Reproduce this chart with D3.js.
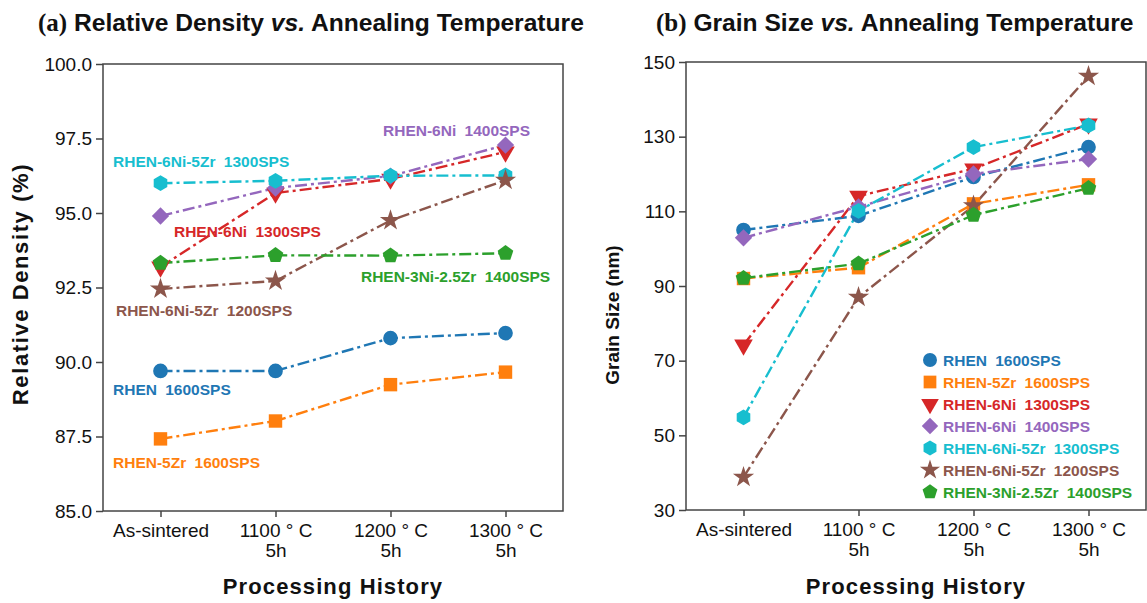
<!DOCTYPE html>
<html><head><meta charset="utf-8">
<script src="https://cdn.jsdelivr.net/npm/d3@7"></script>
<style>
html,body{margin:0;padding:0;background:#fff;}
svg{display:block;}
text{font-family:"Liberation Sans",Arial,sans-serif;}
</style></head>
<body>
<svg id="chart" width="1147" height="603"></svg>
<script>
// ---------- DATA ----------
const categories = ["As-sintered", "1100 ° C|5h", "1200 ° C|5h", "1300 ° C|5h"];
const seriesNames = ["RHEN 1600SPS", "RHEN-5Zr 1600SPS", "RHEN-6Ni 1300SPS", "RHEN-6Ni 1400SPS",
                     "RHEN-6Ni-5Zr 1300SPS", "RHEN-6Ni-5Zr 1200SPS", "RHEN-3Ni-2.5Zr 1400SPS"];
const seriesColors = ["#1f77b4", "#ff7f0e", "#d62728", "#9467bd", "#17becf", "#8c564b", "#2ca02c"];
const seriesMarkers = ["circle", "square", "triangleDown", "diamond", "hexagon", "star", "pentagon"];

// Relative density (%)
const densRHEN      = [89.70, 89.70, 90.80, 90.97];
const dens5Zr       = [87.42, 88.02, 89.24, 89.66];
const dens6Ni1300   = [93.19, 95.67, 96.14, 97.05];
const dens6Ni1400   = [94.90, 95.84, 96.24, 97.28];
const dens6Ni5Zr1300= [96.00, 96.08, 96.25, 96.26];
const dens6Ni5Zr1200= [92.45, 92.72, 94.75, 96.10];
const dens3Ni25Zr   = [93.32, 93.58, 93.57, 93.65];

// Grain size (nm)
const grainRHEN      = [105.0, 108.8, 119.2, 127.2];
const grain5Zr       = [92.0, 94.9, 112.0, 117.1];
const grain6Ni1300   = [74.2, 114.1, 121.4, 133.4];
const grain6Ni1400   = [102.9, 111.2, 120.0, 124.0];
const grain6Ni5Zr1300= [54.8, 110.1, 127.2, 133.0];
const grain6Ni5Zr1200= [38.8, 87.0, 111.5, 146.2];
const grain3Ni25Zr   = [92.1, 96.0, 109.0, 116.2];

const densitySeries = [densRHEN, dens5Zr, dens6Ni1300, dens6Ni1400, dens6Ni5Zr1300, dens6Ni5Zr1200, dens3Ni25Zr];
const grainSeries   = [grainRHEN, grain5Zr, grain6Ni1300, grain6Ni1400, grain6Ni5Zr1300, grain6Ni5Zr1200, grain3Ni25Zr];

const densityTicks = [85.0, 87.5, 90.0, 92.5, 95.0, 97.5, 100.0];
const grainTicks = [30, 50, 70, 90, 110, 130, 150];

// text label anchors for panel (a), in data coordinates (category index, density)
const densityLabelAnchors = [
  [-0.413, 88.89], [-0.413, 86.44], [0.117, 94.19], [1.935, 97.58],
  [-0.413, 96.54], [-0.387, 91.54], [1.743, 92.68]
];

// ---------- DRAW ----------
const svg = d3.select("#chart");
const dash = "12,4,3,4";

function polygon(n, rot) {
  return { draw(ctx, size) {
    const r = Math.sqrt(size / (n * 0.5 * Math.sin(2 * Math.PI / n)));
    for (let i = 0; i < n; i++) {
      const a = rot + i * 2 * Math.PI / n;
      const x = r * Math.sin(a), y = -r * Math.cos(a);
      if (i === 0) ctx.moveTo(x, y); else ctx.lineTo(x, y);
    }
    ctx.closePath();
  }};
}
const markerTypes = {
  circle: [d3.symbolCircle, 170, 0],
  square: [d3.symbolSquare, 180, 0],
  triangleDown: [d3.symbolTriangle, 150, 180],
  diamond: [d3.symbolSquare, 150, 45],
  hexagon: [polygon(6, 0), 160, 0],
  star: [d3.symbolStar, 140, 0],
  pentagon: [polygon(5, 0), 160, 0]
};
function markerPath(name, scale) {
  const m = markerTypes[name];
  return { d: d3.symbol().type(m[0]).size(m[1] * (scale || 1))(), rot: m[2] };
}

function panel(opts) {
  const g = svg.append("g");
  const x = d3.scaleLinear().domain([-0.5, 3.5]).range([opts.left, opts.right]);
  const y = d3.scaleLinear().domain(opts.yDomain).range([opts.bottom, opts.top]);

  // frame
  g.append("rect").attr("x", opts.left).attr("y", opts.top)
    .attr("width", opts.right - opts.left).attr("height", opts.bottom - opts.top)
    .attr("fill", "none").attr("stroke", "#444").attr("stroke-width", 1.5);

  // y axis
  const ya = g.append("g").attr("transform", `translate(${opts.left},0)`)
    .call(d3.axisLeft(y).tickValues(opts.yTicks).tickFormat(opts.yFmt).tickSize(7).tickPadding(4));
  ya.select(".domain").remove();
  ya.selectAll(".tick line").attr("stroke", "#444").attr("stroke-width", 1.5);
  ya.selectAll(".tick text").attr("font-size", 19).attr("fill", "#111")
    .attr("font-family", '"Liberation Sans",Arial,sans-serif');

  // x axis
  const xa = g.append("g").attr("transform", `translate(0,${opts.bottom})`)
    .call(d3.axisBottom(x).tickValues([0, 1, 2, 3]).tickFormat("").tickSize(6));
  xa.select(".domain").remove();
  xa.selectAll(".tick line").attr("stroke", "#444").attr("stroke-width", 1.5);
  xa.selectAll(".tick").each(function(d) {
    const lines = categories[d].split("|");
    const t = d3.select(this).append("text").attr("text-anchor", "middle")
      .attr("font-size", 19).attr("fill", "#111")
      .attr("font-family", '"Liberation Sans",Arial,sans-serif');
    lines.forEach((s, i) => t.append("tspan").attr("x", 0).attr("y", 26 + i * 20).text(s));
  });

  // axis titles
  g.append("text").attr("x", (opts.left + opts.right) / 2).attr("y", 594)
    .attr("text-anchor", "middle").attr("font-size", 22).attr("font-weight", "bold")
    .attr("letter-spacing", 1.1).attr("fill", "#111").text("Processing History");
  g.append("text").attr("transform", `translate(${opts.yTitleX},${opts.yTitleY}) rotate(-90)`)
    .attr("text-anchor", "middle").attr("font-size", opts.yTitleSize).attr("font-weight", "bold")
    .attr("letter-spacing", opts.yTitleLS).attr("fill", "#111").text(opts.yTitle);

  // title
  const tt = g.append("text").attr("x", opts.titleX).attr("y", 31).attr("font-size", 24.6)
    .attr("font-weight", "bold").attr("fill", "#111");
  tt.append("tspan").attr("font-family", '"Liberation Serif","Times New Roman",serif')
    .attr("font-size", 25).text(opts.tag);
  tt.append("tspan").text(" " + opts.titleA + " ");
  tt.append("tspan").attr("font-style", "italic").text("vs.");
  tt.append("tspan").text(" Annealing Temperature");

  // series
  const line = d3.line().x((d, i) => x(i)).y(d => y(d));
  opts.series.forEach((vals, si) => {
    g.append("path").datum(vals).attr("d", line).attr("fill", "none")
      .attr("stroke", seriesColors[si]).attr("stroke-width", 2.4)
      .attr("stroke-dasharray", dash);
  });
  opts.series.forEach((vals, si) => {
    const m = markerPath(seriesMarkers[si]);
    g.selectAll(null).data(vals).enter().append("path")
      .attr("d", m.d)
      .attr("transform", (d, i) => `translate(${x(i)},${y(d)}) rotate(${m.rot})`)
      .attr("fill", seriesColors[si]);
  });
  return { g, x, y };
}

const pa = panel({
  left: 103, right: 563, top: 64, bottom: 511,
  yDomain: [85, 100], yTicks: densityTicks, yFmt: d3.format(".1f"),
  series: densitySeries, yTitle: "Relative Density (%)", yTitleX: 28, yTitleY: 284,
  yTitleSize: 22, yTitleLS: 1.6,
  tag: "(a)", titleA: "Relative Density", titleX: 38
});
const pb = panel({
  left: 686, right: 1146, top: 62, bottom: 510,
  yDomain: [30, 150], yTicks: grainTicks, yFmt: d3.format("d"),
  series: grainSeries, yTitle: "Grain Size (nm)", yTitleX: 619, yTitleY: 315,
  yTitleSize: 19, yTitleLS: 0,
  tag: "(b)", titleA: "Grain Size", titleX: 656
});

// panel (a) inline labels
seriesNames.forEach((name, i) => {
  const a = densityLabelAnchors[i];
  pa.g.append("text").attr("x", pa.x(a[0])).attr("y", pa.y(a[1]))
    .attr("font-size", 15.5).attr("font-weight", "bold").attr("word-spacing", 4)
    .attr("fill", seriesColors[i]).text(name);
});

// panel (b) legend
const lg = pb.g.append("g").attr("transform", "translate(930,360)");
seriesNames.forEach((name, i) => {
  const m = markerPath(seriesMarkers[i], 0.9);
  lg.append("path").attr("d", m.d)
    .attr("transform", `translate(0,${i * 22}) rotate(${m.rot})`).attr("fill", seriesColors[i]);
  lg.append("text").attr("x", 13).attr("y", i * 22 + 5.5)
    .attr("font-size", 15.5).attr("font-weight", "bold").attr("word-spacing", 4)
    .attr("fill", seriesColors[i]).text(name);
});
</script>
</body></html>
